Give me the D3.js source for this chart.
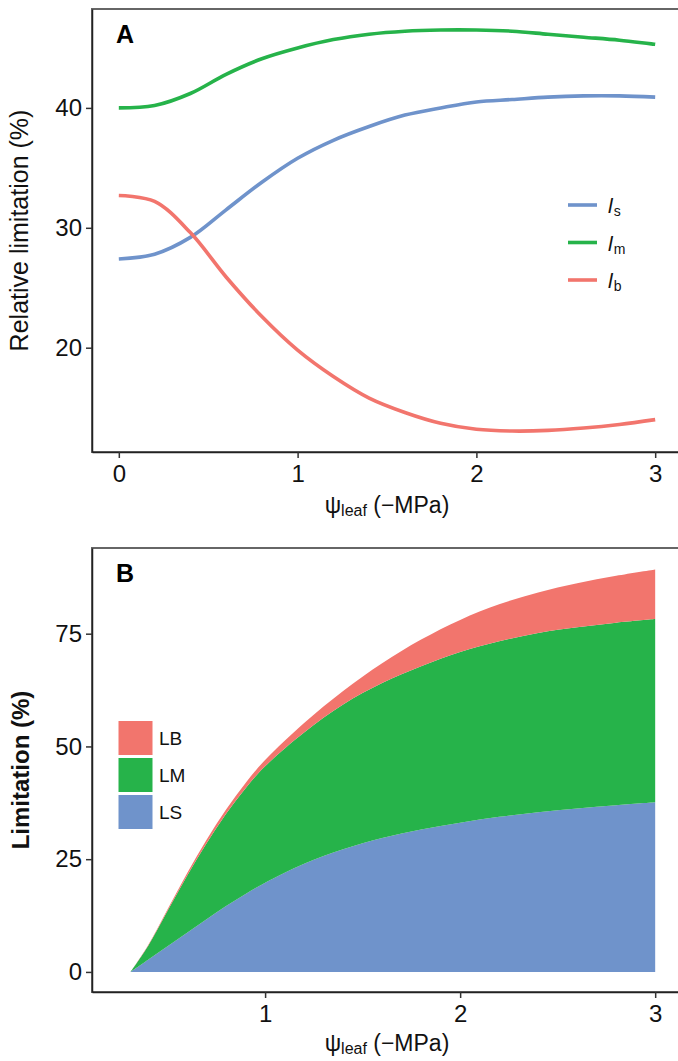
<!DOCTYPE html>
<html>
<head>
<meta charset="utf-8">
<script src="https://cdn.jsdelivr.net/npm/d3@7"></script>
<style>
  body { margin: 0; background: #fff; }
  svg { display: block; font-family: "Liberation Sans", Arial, Helvetica, sans-serif; }
</style>
</head>
<body>
<div id="chart"></div>
<script>
// panel A: relative limitation (%) against leaf water potential
const psiA = [0, 0.2, 0.4, 0.6, 0.8, 1.0, 1.2, 1.4, 1.6, 1.8, 2.0, 2.2, 2.4, 2.6, 2.8, 3.0];
const relLs = [27.4, 27.8, 29.2, 31.5, 33.8, 35.8, 37.3, 38.45, 39.4, 40.0, 40.5, 40.7, 40.9, 41.0, 41.0, 40.9];
const relLm = [40.0, 40.2, 41.2, 42.8, 44.1, 45.0, 45.7, 46.15, 46.4, 46.5, 46.5, 46.4, 46.15, 45.9, 45.65, 45.3];
const relLb = [32.7, 32.2, 29.6, 25.9, 22.6, 19.8, 17.6, 15.8, 14.6, 13.7, 13.2, 13.05, 13.1, 13.3, 13.6, 14.0];
const ticksA = [0, 1, 2, 3];
const yTicksA = [20, 30, 40];

// panel B: stacked limitation (%)
const psiB = [0.31, 0.4, 0.5, 0.6, 0.7, 0.8, 0.9, 1.0, 1.2, 1.4, 1.6, 1.8, 2.0, 2.2, 2.4, 2.6, 2.8, 3.0];
const limLS = [0, 2.7, 5.7, 8.7, 11.7, 14.6, 17.3, 19.8, 24.0, 27.2, 29.7, 31.6, 33.1, 34.4, 35.4, 36.25, 36.95, 37.6];
const limLM = [0, 3.05, 7.85, 12.65, 16.85, 20.45, 23.45, 25.8, 29.1, 32.1, 34.35, 36.2, 37.85, 38.9, 39.75, 40.15, 40.5, 40.65];
const limLB = [0, 0.15, 0.35, 0.55, 0.75, 0.95, 1.15, 1.4, 2.1, 3.0, 4.4, 5.9, 7.1, 8.2, 9.0, 9.8, 10.4, 11.0];
const ticksB = [1, 2, 3];
const yTicksB = [0, 25, 50, 75];

const colors = { s: '#6F93CB', m: '#26B34A', b: '#F2756D' };

let width = 678;
let height = 1061;

let svg = d3.select('#chart').append('svg')
  .attr('width', width)
  .attr('height', height);

function frame(g, x, y, xTicks, yTicks) {
  let [x0, x1] = x.range();
  let [y1, y0] = y.range();

  g.append('rect')
    .attr('x', x0).attr('y', y0)
    .attr('width', x1 - x0).attr('height', y1 - y0)
    .attr('fill', 'none')
    .attr('stroke', '#666')
    .attr('stroke-width', 2);

  let xAxis = g.append('g')
    .attr('transform', `translate(0,${y1})`)
    .call(d3.axisBottom(x).tickValues(xTicks).tickSizeInner(6).tickSizeOuter(0).tickPadding(7).tickFormat(d3.format('d')));
  let yAxis = g.append('g')
    .attr('transform', `translate(${x0},0)`)
    .call(d3.axisLeft(y).tickValues(yTicks).tickSizeInner(6).tickSizeOuter(0).tickPadding(4).tickFormat(d3.format('d')));

  [xAxis, yAxis].forEach(a => {
    a.select('.domain').attr('stroke', '#222').attr('stroke-width', 1.5);
    a.selectAll('.tick line').attr('stroke', '#333').attr('stroke-width', 1.5);
    a.selectAll('.tick text').attr('fill', '#111').style('font-size', '24px');
  });
}

function xTitle(g, cx, baseline) {
  let t = g.append('text')
    .attr('x', cx).attr('y', baseline)
    .attr('text-anchor', 'middle')
    .attr('fill', '#111')
    .style('font-size', '23px');
  t.append('tspan').text('ψ');
  t.append('tspan').attr('dy', 3).style('font-size', '16px').text('leaf');
  t.append('tspan').attr('dy', -3).text(' (−MPa)');
}

// ---- panel A
let xA = d3.scaleLinear().domain([-0.15, 3.15]).range([92, 682]);
let yA = d3.scaleLinear().domain([11.3, 48.25]).range([452, 9]);

let gA = svg.append('g');
frame(gA, xA, yA, ticksA, yTicksA);

let line = d3.line()
  .x(d => xA(d[0]))
  .y(d => yA(d[1]))
  .curve(d3.curveCatmullRom);

let seriesA = [
  { key: 's', values: relLs },
  { key: 'm', values: relLm },
  { key: 'b', values: relLb }
];

gA.selectAll('path.series')
  .data(seriesA)
  .enter()
  .append('path')
  .attr('class', 'series')
  .attr('d', s => line(psiA.map((p, i) => [p, s.values[i]])))
  .attr('fill', 'none')
  .attr('stroke', s => colors[s.key])
  .attr('stroke-width', 3.6);

// legend A
let legA = gA.selectAll('g.leg')
  .data(seriesA)
  .enter()
  .append('g')
  .attr('class', 'leg')
  .attr('transform', (d, i) => `translate(568,${205 + i * 37.5})`);
legA.append('line')
  .attr('x1', 0).attr('x2', 29)
  .attr('stroke', d => colors[d.key])
  .attr('stroke-width', 3.6);
let legText = legA.append('text')
  .attr('x', 40).attr('y', 8)
  .attr('fill', '#111');
legText.append('tspan').style('font-style', 'italic').style('font-size', '21px').text('l');
legText.append('tspan').attr('dx', 1).attr('dy', 3).style('font-size', '14px').text(d => d.key);

gA.append('text')
  .attr('x', 116).attr('y', 42.5)
  .style('font-size', '25px').style('font-weight', 'bold')
  .text('A');

gA.append('text')
  .attr('transform', `translate(28,${(9 + 452) / 2}) rotate(-90)`)
  .attr('text-anchor', 'middle')
  .attr('fill', '#111')
  .style('font-size', '25px')
  .text('Relative limitation (%)');

xTitle(gA, 387, 513);

// ---- panel B
let xB = d3.scaleLinear().domain([0.1125, 3.1375]).range([92, 682]);
let yB = d3.scaleLinear().domain([-4.45, 94.0]).range([992, 548]);

let gB = svg.append('g');

let tableB = psiB.map((p, i) => ({ psi: p, LS: limLS[i], LM: limLM[i], LB: limLB[i] }));
let stack = d3.stack().keys(['LS', 'LM', 'LB']);
let layers = stack(tableB);
let layerColor = { LS: colors.s, LM: colors.m, LB: colors.b };

let area = d3.area()
  .x(d => xB(d.data.psi))
  .y0(d => yB(d[0]))
  .y1(d => yB(d[1]))
  .curve(d3.curveCatmullRom);

gB.selectAll('path.layer')
  .data(layers)
  .enter()
  .append('path')
  .attr('class', 'layer')
  .attr('d', area)
  .attr('fill', d => layerColor[d.key]);

frame(gB, xB, yB, ticksB, yTicksB);

// legend B (top to bottom: LB, LM, LS)
let legB = gB.selectAll('g.legb')
  .data(['LB', 'LM', 'LS'])
  .enter()
  .append('g')
  .attr('class', 'legb')
  .attr('transform', (d, i) => `translate(118,${720.5 + i * 37})`);
legB.append('rect')
  .attr('width', 35).attr('height', 35)
  .attr('fill', d => layerColor[d])
  .attr('stroke', '#fff')
  .attr('stroke-width', 1);
legB.append('text')
  .attr('x', 41).attr('y', 24.5)
  .attr('fill', '#111')
  .style('font-size', '19px')
  .text(d => d);

gB.append('text')
  .attr('x', 116).attr('y', 582)
  .style('font-size', '25px').style('font-weight', 'bold')
  .text('B');

gB.append('text')
  .attr('transform', `translate(29,${(548 + 992) / 2}) rotate(-90)`)
  .attr('text-anchor', 'middle')
  .attr('fill', '#111')
  .style('font-size', '24px').style('font-weight', 'bold')
  .text('Limitation (%)');

xTitle(gB, 387, 1051);
</script>
</body>
</html>
